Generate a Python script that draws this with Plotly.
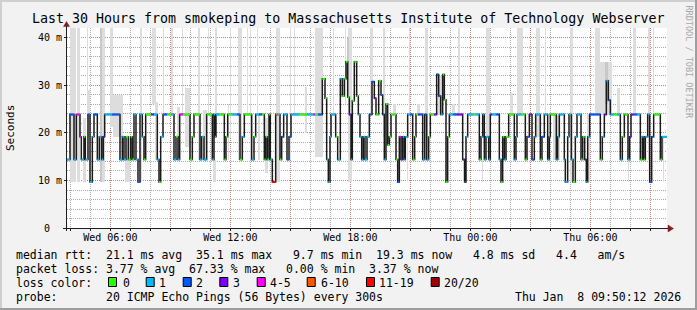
import plotly.graph_objects as go
from datetime import datetime, timedelta

# ---------------- data ----------------
START = datetime(2026, 1, 7, 3, 50, 0)
SPAN_MIN = 1800  # 30 hours

A, B, C, D = 23.9, 19.2, 14.4, 9.7   # recurring median levels (ms)

median_start_min = [
    0, 9, 21, 28, 39, 43, 51, 55, 63, 69,
    76, 81, 91, 97, 104, 109, 113, 135, 159, 166,
    171, 177, 184, 191, 196, 201, 207, 213, 219, 226,
    231, 236, 252, 261, 271, 276, 281, 288, 300, 312,
    321, 327, 333, 338, 348, 369, 376, 381, 399, 404,
    411, 419, 436, 441, 444, 447, 456, 472, 477, 482,
    495, 510, 519, 526, 532, 554, 561, 566, 576, 585,
    592, 596, 601, 606, 610, 616, 626, 633, 639, 644,
    650, 660, 666, 672, 696, 720, 738, 744, 753, 766,
    774, 779, 784, 789, 792, 806, 812, 820, 826, 832,
    837, 842, 847, 852, 856, 862, 869, 874, 879, 884,
    889, 894, 900, 907, 915, 922, 927, 935, 942, 947,
    952, 957, 962, 967, 972, 987, 992, 997, 1002, 1007,
    1012, 1015, 1022, 1029, 1037, 1043, 1047, 1053, 1059, 1067,
    1073, 1079, 1085, 1090, 1101, 1109, 1115, 1121, 1127, 1132,
    1137, 1142, 1147, 1158, 1170, 1187, 1193, 1197, 1202, 1218,
    1227, 1237, 1242, 1247, 1252, 1257, 1265, 1270, 1275, 1287,
    1297, 1302, 1307, 1312, 1317, 1325, 1342, 1347, 1350, 1362,
    1375, 1380, 1387, 1395, 1402, 1406, 1420, 1425, 1432, 1442,
    1447, 1450, 1468, 1472, 1477, 1492, 1495, 1502, 1506, 1513,
    1518, 1525, 1530, 1542, 1547, 1553, 1558, 1562, 1568, 1600,
    1606, 1612, 1618, 1624, 1630, 1641, 1650, 1660, 1666, 1672,
    1683, 1688, 1692, 1698, 1710, 1720, 1726, 1730, 1735, 1742,
    1748, 1754, 1760, 1780, 1785,
]
median_ms = [
    C, A, C, A, B, C, B, C, A, D,
    B, A, C, B, C, B, A, A, C, B,
    C, B, C, B, C, A, C, D, A, B,
    C, A, A, A, C, D, B, A, A, A,
    C, B, C, A, A, C, B, A, C, B,
    C, A, C, A, B, A, A, C, B, A,
    A, A, C, B, A, C, B, A, A, A,
    C, B, C, A, C, D, A, A, C, B,
    A, C, B, A, A, A, A, A, A, 31.4,
    27.3, C, D, B, A, B, C, 31.4, 27.8, 31.4,
    35.0, 27.5, A, C, 26.8, 35.0, 27.8, A, B, C,
    B, C, B, A, 30.8, 27.3, A, 31.0, 28.0, A,
    C, 26.1, 17.5, B, A, C, D, B, C, B,
    C, B, A, A, C, B, A, A, A, C,
    A, C, B, A, A, 32.3, 27.8, A, 32.3, 27.0,
    D, B, A, A, A, C, D, B, A, A,
    A, C, B, A, C, B, C, A, A, A,
    C, D, B, C, B, A, C, B, A, A,
    C, B, A, C, B, A, C, B, A, C,
    B, A, C, B, A, C, D, B, A, C,
    D, B, A, C, B, C, D, B, A, C,
    B, A, 31.0, 26.9, A, A, A, C, B, A,
    C, B, A, A, A, C, B, C, B, A,
    D, B, A, C, B,
]
median_loss = [
    1, 2, 1, 4, 4, 1, 0, 1, 2, 1,
    1, 2, 1, 1, 1, 3, 1, 2, 1, 1,
    1, 0, 0, 0, 0, 1, 1, 2, 1, 1,
    0, 0, 3, 1, 1, 0, 1, 2, 0, 1,
    1, 0, 1, 4, 0, 0, 0, 0, 1, 1,
    1, 0, 1, 1, 1, 1, 0, 0, 0, 0,
    1, 2, 0, 1, 0, 1, 0, 1, 2, 0,
    0, 0, 0, 0, 1, 6, 5, 1, 0, 2,
    1, 2, 2, 1, 0, 1, 4, 0, 2, 0,
    0, 1, 1, 1, 1, 0, 1, 1, 0, 0,
    0, 0, 3, 1, 0, 0, 0, 1, 1, 1,
    1, 1, 1, 2, 2, 3, 0, 0, 2, 2,
    1, 0, 0, 0, 0, 0, 2, 4, 3, 1,
    1, 1, 1, 2, 0, 0, 0, 3, 2, 1,
    2, 1, 0, 0, 3, 2, 2, 1, 0, 0,
    0, 0, 1, 2, 3, 3, 2, 1, 1, 0,
    1, 0, 1, 1, 1, 1, 1, 3, 1, 2,
    1, 0, 0, 1, 0, 0, 1, 1, 1, 0,
    0, 2, 3, 2, 1, 1, 0, 2, 1, 1,
    1, 0, 1, 1, 1, 1, 1, 1, 1, 1,
    0, 1, 1, 0, 0, 3, 1, 1, 2, 0,
    1, 3, 1, 2, 1, 0, 1, 1, 0, 0,
    1, 3, 3, 2, 1, 0, 1, 0, 1, 1,
    2, 2, 0, 0, 1,
]

smoke_start_min = [
    9, 30, 48, 60, 63, 99, 129, 138, 174, 219,
    255, 264, 279, 288, 312, 330, 345, 354, 393, 408,
    423, 438, 444, 483, 489, 513, 540, 549, 570, 573,
    594, 627, 669, 681, 714, 744, 798, 834, 843, 909,
    948, 978, 1020, 1026, 1050, 1074, 1113, 1155, 1173, 1188,
    1245, 1257, 1308, 1329, 1350, 1407, 1434, 1458, 1509, 1560,
    1584, 1599, 1650, 1683, 1698, 1743, 1758, 1788,
]
smoke_len_min = [
    18, 9, 9, 3, 6, 15, 9, 30, 15, 6,
    12, 9, 3, 3, 6, 9, 3, 15, 6, 12,
    3, 9, 6, 3, 3, 12, 3, 3, 3, 6,
    9, 12, 3, 3, 6, 24, 3, 3, 12, 9,
    6, 9, 3, 3, 9, 9, 12, 9, 6, 9,
    3, 12, 12, 9, 18, 12, 3, 21, 9, 9,
    15, 36, 9, 3, 9, 6, 3, 3,
]
smoke_lo = [
    9.7, 9.7, 9.7, 14.3, 19.2, 9.7, 21.3, 19.2, 9.7, 9.7,
    26.0, 14.3, 9.4, 24.0, 24.0, 14.3, 24.0, 17.0, 14.3, 14.3,
    24.0, 9.7, 24.0, 14.3, 19.0, 14.3, 24.0, 14.3, 24.0, 14.3,
    11.5, 9.7, 14.3, 24.0, 19.9, 15.0, 24.0, 26.0, 9.7, 23.8,
    19.2, 23.8, 9.7, 24.0, 23.8, 14.3, 23.8, 23.8, 24.0, 9.7,
    9.7, 19.2, 14.3, 23.8, 23.8, 19.2, 24.0, 14.3, 9.7, 9.7,
    23.8, 23.8, 23.8, 9.7, 23.8, 14.3, 24.0, 9.7,
]
smoke_hi = [
    46, 46, 23.1, 46, 29, 46, 46, 28, 19.2, 46,
    46, 26.6, 15, 46, 46, 25.5, 46, 29.4, 46, 24.8,
    46, 14.3, 46, 26.2, 46, 46, 46, 46, 46, 24.1,
    23.1, 46, 46, 46, 29.7, 46, 46, 46, 46, 46,
    46, 26, 23.8, 46, 26, 46, 32, 26, 46, 14.3,
    14.3, 46, 16.4, 28.4, 46, 46, 46, 23.8, 46, 24,
    46, 35, 29.4, 14.3, 46, 46, 46, 19.2,
]
dark_start_min = [99, 840, 1614]
dark_len_min = [6, 6, 9]
dark_lo = [9.7, 31.0, 26.0]
dark_hi = [46, 40.0, 35.0]

loss_colors = ["#26ff00", "#00b8ff", "#0059ff", "#7e00ff",
               "#ff00ff", "#ff5500", "#ff0000", "#a10000"]
loss_labels = ["0", "1", "2", "3", "4-5", "6-10", "11-19", "20/20"]

y_tick_vals = [0, 10, 20, 30, 40]
y_tick_text = ["0\u00a0\u00a0", "10 m", "20 m", "30 m", "40 m"]
x_tick_vals = [datetime(2026, 1, 7, 6) + timedelta(hours=3 * i) for i in range(10)]
x_tick_text = ["Wed 06:00", "", "Wed 12:00", "", "Wed 18:00", "",
               "Thu 00:00", "", "Thu 06:00", ""]

title_text = "Last 30 Hours from smokeping to Massachusetts Institute of Technology Webserver"
legend_rows = [
    "median rtt:  21.1 ms avg  35.1 ms max   9.7 ms min  19.3 ms now   4.8 ms sd   4.4   am/s",
    "packet loss: 3.77 % avg  67.33 % max   0.00 % min  3.37 % now",
    "loss color:",
    "probe:       20 ICMP Echo Pings (56 Bytes) every 300s",
]
stamp_text = "Thu Jan  8 09:50:12 2026"

# ---------------- styling ----------------
MONO = "DejaVu Sans Mono"
BACK, CANVAS = "#F2F2F2", "#FFFFFF"
SHADEA, SHADEB = "#CFCFCF", "#9E9E9E"
GRID = "rgba(143,143,143,0.75)"
MGRID = "rgba(222,79,79,0.4)"
AXIS = "#1F1F1F"
ARROW = "#801F1F"
SMOKE = "#DDDDDD"
SMOKE_DARK = "#C8C8C8"
W, H = 697, 310
PL, PR, PT, PB = 67, 667, 28, 228


def fx(px):
    return (px - PL) / (PR - PL)


def fy(py):
    return (PB - py) / (PB - PT)


def t(m):
    return START + timedelta(minutes=m)


def nb(s):
    return s.replace(" ", "\u00a0")


END = t(SPAN_MIN)
fig = go.Figure()

# smoke
for starts, lens, los, his, col in [
    (smoke_start_min, smoke_len_min, smoke_lo, smoke_hi, SMOKE),
    (dark_start_min, dark_len_min, dark_lo, dark_hi, SMOKE_DARK),
]:
    fig.add_trace(go.Bar(
        x=[t(s + l / 2) for s, l in zip(starts, lens)],
        y=[h - lo for lo, h in zip(los, his)],
        base=los,
        width=[l * 60000 for l in lens],
        marker=dict(color=col, line=dict(width=0)),
        hoverinfo="skip",
    ))

# median step line (black)
xs = [t(m) for m in median_start_min] + [END]
ys = list(median_ms) + [median_ms[-1]]
fig.add_trace(go.Scatter(x=xs, y=ys, mode="lines",
                         line=dict(color="#1a1a1a", width=1.5, shape="hv"),
                         hoverinfo="skip"))

# coloured median segments by loss
ends = median_start_min[1:] + [SPAN_MIN]
for k, col in enumerate(loss_colors):
    sx, sy = [], []
    for s, e, v, lo in zip(median_start_min, ends, median_ms, median_loss):
        if lo == k:
            sx += [t(s), t(e), None]
            sy += [v, v, None]
    if sx:
        fig.add_trace(go.Scatter(x=sx, y=sy, mode="lines",
                                 line=dict(color=col, width=2),
                                 connectgaps=False, hoverinfo="skip"))

shapes = []
# frame shading
shapes += [
    dict(type="rect", xref="paper", yref="paper", x0=fx(0), x1=fx(W), y0=fy(0), y1=fy(2),
         fillcolor=SHADEA, line=dict(width=0), layer="below"),
    dict(type="rect", xref="paper", yref="paper", x0=fx(0), x1=fx(2), y0=fy(0), y1=fy(H),
         fillcolor=SHADEA, line=dict(width=0), layer="below"),
    dict(type="rect", xref="paper", yref="paper", x0=fx(0), x1=fx(W), y0=fy(H - 2), y1=fy(H),
         fillcolor=SHADEB, line=dict(width=0), layer="below"),
    dict(type="rect", xref="paper", yref="paper", x0=fx(W - 2), x1=fx(W), y0=fy(0), y1=fy(H),
         fillcolor=SHADEB, line=dict(width=0), layer="below"),
]
# axes
shapes += [
    dict(type="line", xref="paper", yref="paper", x0=fx(63), x1=fx(669), y0=fy(228.5), y1=fy(228.5),
         line=dict(color=AXIS, width=1), layer="above"),
    dict(type="line", xref="paper", yref="paper", x0=fx(66.5), x1=fx(66.5), y0=fy(231), y1=fy(25),
         line=dict(color=AXIS, width=1), layer="above"),
    dict(type="path", xref="paper", yref="paper",
         path=f"M {fx(668)} {fy(225)} L {fx(673.5)} {fy(228.5)} L {fx(668)} {fy(232)} Z",
         fillcolor=ARROW, line=dict(color=ARROW, width=0.5), layer="above"),
    dict(type="path", xref="paper", yref="paper",
         path=f"M {fx(63.5)} {fy(26.5)} L {fx(66.5)} {fy(21.5)} L {fx(69.5)} {fy(26.5)} Z",
         fillcolor=ARROW, line=dict(color=ARROW, width=0.5), layer="above"),
]

annotations = []


def ann(text, x, y, size=11.5, xanchor="left", yanchor="middle", color="#000000",
        angle=0, family=MONO):
    annotations.append(dict(text=nb(text), x=fx(x), y=fy(y), xref="paper", yref="paper",
                            xanchor=xanchor, yanchor=yanchor, showarrow=False,
                            font=dict(family=family, size=size, color=color),
                            textangle=angle, borderpad=0, borderwidth=0))


ann(title_text, 347.5, 18.7, size=13.3, xanchor="center")
ann("Seconds", 10, 128, size=11, xanchor="center", angle=-90)
ann("RRDTOOL / TOBI OETIKER", 688.5, 62, size=8.5, xanchor="center",
    color="#A8A8A8", angle=90)

row_y = [254.8, 268.8, 282.8, 296.8]
for txt, yy in zip(legend_rows, row_y):
    ann(txt, 15.5, yy)
ann(stamp_text, 681, row_y[3], xanchor="right")

box_x = [108, 145.7, 182.7, 219.3, 256.7, 306.7, 366, 430.7]
lab_x = [122.7, 159.4, 196, 232.7, 270, 321, 379.4, 444.4]
for bx, lx, col, lab in zip(box_x, lab_x, loss_colors, loss_labels):
    shapes.append(dict(type="rect", xref="paper", yref="paper",
                       x0=fx(bx + 0.5), x1=fx(bx + 8.5), y0=fy(277.5), y1=fy(286.5),
                       fillcolor=col, line=dict(color="#000000", width=1), layer="above"))
    ann(lab, lx, row_y[2])

fig.update_layout(
    width=W, height=H,
    margin=dict(l=PL, r=W - PR, t=PT, b=H - PB, pad=0),
    paper_bgcolor=BACK, plot_bgcolor=CANVAS,
    showlegend=False, barmode="overlay", bargap=0,
    shapes=shapes, annotations=annotations,
    xaxis=dict(
        type="date", range=[START, END],
        tickmode="array", tickvals=x_tick_vals, ticktext=x_tick_text,
        showgrid=True, gridcolor=MGRID, griddash="1px,1px", gridwidth=1,
        ticks="outside", ticklen=2, tickcolor=AXIS, tickwidth=1,
        ticklabelstandoff=-2,
        tickfont=dict(family=MONO, size=10, color="#000000"),
        showline=False, zeroline=False, fixedrange=True,
        minor=dict(dtick=3600000, tick0="2026-01-07 04:00:00", showgrid=True,
                   gridcolor=GRID, griddash="1px,1px", gridwidth=1,
                   ticks="outside", ticklen=2, tickcolor=AXIS),
    ),
    yaxis=dict(
        range=[0, 42.1],
        tickmode="array", tickvals=y_tick_vals, ticktext=y_tick_text,
        showgrid=True, gridcolor=MGRID, griddash="1px,1px", gridwidth=1,
        ticks="outside", ticklen=2, tickcolor=AXIS,
        tickfont=dict(family=MONO, size=10, color="#000000"),
        showline=False, zeroline=False, fixedrange=True,
        minor=dict(dtick=2, tick0=0, showgrid=True, gridcolor=GRID,
                   griddash="1px,1px", gridwidth=1),
    ),
)

fig.write_html("out.html")
